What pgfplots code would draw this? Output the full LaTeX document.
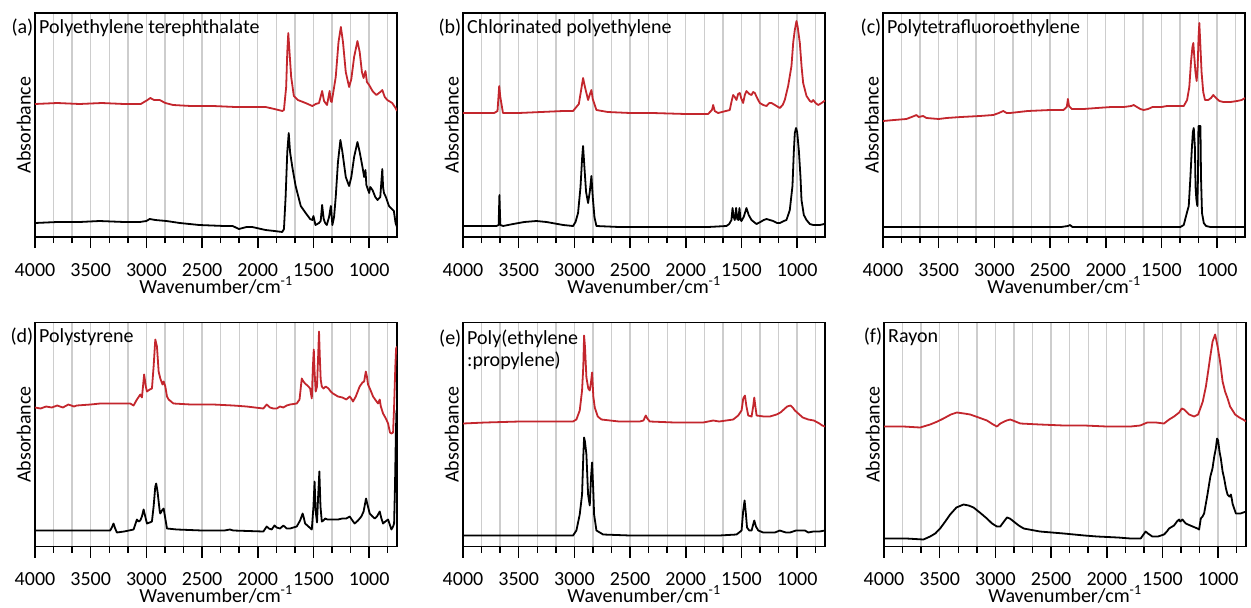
\documentclass[border=0pt]{standalone}
\usepackage{fontspec}
\setmainfont{Carlito}
\usepackage{pgfplots}
\pgfplotsset{compat=1.18}
\definecolor{specred}{RGB}{195,38,45}
\definecolor{gridgray}{RGB}{205,205,205}
\newcommand\ff{\fontsize{20}{24}\selectfont}
\pgfplotsset{
  spec/.style={
    scale only axis, width=362pt, height=224pt,
    anchor=north west, clip mode=individual,
    xmin=750, xmax=4000, x dir=reverse, ymin=0, ymax=224,
    xtick={1000,1500,...,4000},
    minor xtick={833.33,1166.67,1333.33,1666.67,1833.33,2166.67,2333.33,2666.67,2833.33,3166.67,3333.33,3666.67,3833.33},
    ytick=\empty,
    xtick pos=left,
    tick align=outside, major tick length=11pt, minor tick length=6pt,
    xmajorgrids, xminorgrids,
    major grid style={gridgray, line width=1.4pt},
    minor grid style={gridgray, line width=1.4pt},
    axis line style={line width=1.6pt},
    tick style={black, line width=1.5pt},
    tick label style={font=\ff},
    xticklabel style={anchor=base, inner sep=0pt, yshift=-28pt},
    /pgf/number format/set thousands separator={},
    /pgf/number format/assume math mode=true,
    xlabel={Wavenumber/cm\textsuperscript{-1}},
    xlabel style={font=\ff, inner sep=0pt, at={(axis description cs:0.5,0)}, anchor=base, yshift=-56pt},
    ylabel={Absorbance},
    ylabel style={font=\ff, at={(axis description cs:-0.0124,0.5)}, anchor=base},
    every axis plot/.append style={line width=1.8pt, line join=round, no marks},
  },
  red/.style={specred},
  blk/.style={black},
}
\newcommand\ptitle[2]{%
  \node[anchor=base east, inner sep=0pt, font=\ff, xshift=-1.5pt, yshift=-20pt] at (rel axis cs:0,1) {#1};
  \node[anchor=base west, inner sep=0pt, font=\ff, xshift=4pt, yshift=-20pt] at (rel axis cs:0,1) {#2};
}
\begin{document}
\begin{tikzpicture}
\path[use as bounding box] (0,0) rectangle (1251pt,-608pt);

% (a) PET
\begin{axis}[spec, at={(35pt,-13pt)}]
\addplot[red] coordinates {(4000,133)(3800,134)(3600,133)(3400,134)(3200,133)(3050,133)(2990,137)(2965,139)(2930,137)(2880,137)(2830,134)(2760,132)(2600,131)(2400,131)(2200,130)(2000,130)(1930,130)(1850,128)(1780,126)(1765,127)(1745,150)(1735,185)(1726,204)(1715,185)(1700,160)(1676,141)(1640,137)(1571,134)(1510,131)(1480,133)(1450,134)(1422,146)(1405,136)(1378,132)(1355,146)(1345,136)(1336,135)(1300,160)(1275,195)(1254,210)(1235,195)(1210,165)(1180,150)(1160,158)(1135,180)(1105,196)(1085,185)(1065,165)(1050,159)(1033,166)(1020,155)(1000,152)(970,146)(935,142)(900,145)(882,147)(860,140)(837,137)(793,134)(763,129)(750,126)};
\addplot[blk] coordinates {(4000,14)(3800,15)(3600,15)(3420,16)(3200,15)(3060,15)(3000,16)(2970,18)(2920,17)(2820,16)(2700,14)(2525,12)(2300,11)(2225,11)(2170,8)(2100,10)(2050,10)(1930,7)(1850,6)(1780,5)(1765,8)(1750,40)(1735,85)(1722,104)(1710,85)(1690,70)(1660,51)(1614,31)(1570,24)(1530,18)(1510,17)(1500,21)(1482,12)(1450,14)(1435,16)(1422,32)(1408,18)(1395,14)(1380,12)(1360,20)(1344,31)(1330,12)(1315,20)(1300,40)(1280,75)(1258,97)(1240,85)(1210,60)(1180,51)(1160,60)(1135,80)(1105,95)(1085,85)(1060,70)(1045,60)(1033,67)(1025,52)(1000,44)(990,50)(970,47)(945,40)(925,37)(900,40)(882,68)(875,50)(867,44)(850,40)(822,31)(778,26)(763,14)(750,10)};
\ptitle{(a)}{Polyethylene terephthalate}
\end{axis}

% (b) CPE
\begin{axis}[spec, at={(463pt,-13pt)}]
\addplot[red] coordinates {(4000,124)(3720,124)(3690,126)(3675,151)(3665,140)(3641,124)(3500,124)(3300,125)(3100,126)(3012,126)(2960,133)(2935,150)(2922,159)(2905,150)(2877,137)(2860,143)(2847,147)(2835,138)(2802,127)(2700,125)(2500,124)(2300,124)(2000,123)(1800,123)(1765,127)(1754,132)(1740,126)(1710,124)(1605,127)(1590,135)(1575,142)(1560,140)(1545,137)(1530,143)(1515,144)(1500,138)(1485,134)(1470,142)(1455,146)(1430,143)(1410,142)(1395,145)(1380,144)(1355,138)(1335,134)(1305,132)(1275,131)(1250,134)(1230,134)(1200,132)(1156,129)(1130,132)(1111,137)(1081,151)(1051,171)(1035,195)(1021,207)(1006,216)(995,210)(976,194)(960,170)(946,154)(916,141)(886,136)(870,135)(856,137)(835,134)(811,132)(780,134)(757,136)(750,136)};
\addplot[blk] coordinates {(4000,11)(3700,11)(3680,12)(3673,42)(3665,12)(3640,11)(3550,13)(3450,15)(3341,16)(3250,15)(3100,12)(3012,11)(2990,15)(2967,24)(2945,50)(2930,80)(2922,91)(2910,70)(2895,45)(2877,34)(2862,45)(2847,61)(2835,40)(2820,20)(2802,11)(2600,10)(2300,10)(2000,10)(1800,10)(1635,11)(1610,13)(1590,17)(1580,29)(1570,20)(1560,17)(1548,29)(1538,18)(1528,17)(1518,29)(1508,17)(1500,16)(1480,20)(1455,29)(1435,22)(1410,17)(1365,13)(1330,15)(1300,17)(1275,18)(1245,17)(1215,16)(1180,14)(1156,14)(1120,16)(1096,17)(1066,27)(1042,51)(1030,85)(1021,104)(1010,109)(1000,105)(985,87)(970,60)(961,37)(940,22)(916,17)(886,13)(856,12)(830,12)(796,12)(757,13)(750,13)};
\ptitle{(b)}{Chlorinated polyethylene}
\end{axis}

% (c) PTFE
\begin{axis}[spec, at={(883pt,-13pt)}]
\addplot[red] coordinates {(4000,116)(3900,117)(3790,118)(3720,121)(3700,122)(3680,120)(3640,121)(3610,119)(3500,118)(3430,119)(3300,120)(3130,121)(3010,122)(2960,124)(2920,126)(2890,124)(2860,124)(2700,126)(2500,127)(2380,127)(2350,130)(2340,138)(2330,131)(2305,128)(2200,128)(2080,129)(1950,130)(1840,130)(1770,131)(1750,132)(1720,130)(1690,128)(1660,127)(1620,128)(1580,130)(1540,130)(1500,130)(1450,131)(1350,131)(1300,131)(1270,137)(1250,150)(1235,175)(1222,190)(1214,194)(1205,180)(1195,165)(1184,156)(1175,170)(1167,200)(1160,214)(1152,195)(1140,165)(1125,145)(1109,137)(1080,137)(1055,139)(1035,142)(1010,139)(980,136)(945,135)(880,135)(820,136)(780,137)(750,139)};
\addplot[blk] coordinates {(4000,10)(3000,10)(2400,10)(2340,11)(2320,12)(2300,10)(1500,10)(1330,10)(1300,12)(1270,25)(1255,31)(1240,60)(1228,87)(1218,105)(1210,109)(1200,90)(1194,50)(1186,37)(1178,31)(1172,60)(1168,111)(1150,111)(1145,60)(1136,24)(1120,14)(1100,11)(1060,10)(750,10)};
\ptitle{(c)}{Polytetrafluoroethylene}
\end{axis}

% (d) PS
\begin{axis}[spec, at={(35pt,-322.5pt)}]
\addplot[red] coordinates {(4000,139)(3950,138)(3900,140)(3850,139)(3800,141)(3750,139)(3700,142)(3650,140)(3625,141)(3500,142)(3415,143)(3300,143)(3145,143)(3115,141)(3085,147)(3055,152)(3040,149)(3020,172)(3005,160)(2995,155)(2970,157)(2950,158)(2935,180)(2920,207)(2905,200)(2890,175)(2875,168)(2855,162)(2845,165)(2830,160)(2815,150)(2800,147)(2757,143)(2600,142)(2400,142)(2220,141)(2100,140)(1950,138)(1920,142)(1890,139)(1860,138)(1830,138)(1800,140)(1770,139)(1740,141)(1710,142)(1650,143)(1625,147)(1605,168)(1590,165)(1575,163)(1545,160)(1530,158)(1515,148)(1505,180)(1497,197)(1490,175)(1480,155)(1468,160)(1458,190)(1450,215)(1443,190)(1435,167)(1425,160)(1410,158)(1390,160)(1365,158)(1345,155)(1325,153)(1280,150)(1240,149)(1205,147)(1175,150)(1160,148)(1145,145)(1120,150)(1085,160)(1060,164)(1045,165)(1030,175)(1020,170)(1010,162)(990,157)(965,150)(940,146)(920,143)(905,147)(895,140)(875,133)(850,128)(830,123)(813,114)(800,113)(785,114)(776,140)(765,180)(758,198)(750,200)};
\addplot[blk] coordinates {(4000,16)(3600,16)(3325,16)(3310,19)(3295,23)(3280,18)(3265,14)(3200,15)(3115,17)(3085,27)(3070,25)(3055,26)(3040,30)(3025,37)(3010,30)(2995,23)(2970,24)(2950,25)(2935,40)(2920,60)(2912,63)(2900,55)(2880,35)(2875,33)(2860,36)(2845,38)(2830,28)(2815,18)(2725,17)(2500,16)(2300,16)(2250,17)(2220,16)(1950,15)(1920,20)(1900,18)(1875,17)(1850,21)(1830,19)(1800,18)(1770,21)(1740,18)(1710,18)(1680,19)(1650,20)(1635,23)(1620,26)(1597,33)(1585,28)(1575,23)(1545,20)(1515,17)(1500,40)(1490,65)(1480,35)(1468,24)(1458,50)(1447,75)(1437,40)(1425,25)(1410,26)(1395,28)(1375,27)(1350,27)(1320,27)(1280,27)(1240,28)(1205,28)(1175,30)(1150,26)(1130,23)(1100,26)(1070,30)(1050,35)(1028,48)(1015,42)(995,33)(970,30)(950,28)(930,30)(905,35)(890,28)(875,23)(855,25)(830,27)(815,22)(800,17)(785,20)(776,23)(768,60)(760,113)(755,135)(750,137)};
\ptitle{(d)}{Polystyrene}
\end{axis}

% (e) EP copolymer
\begin{axis}[spec, at={(463pt,-322.5pt)}]
\addplot[red] coordinates {(4000,123)(3800,124)(3491,125)(3200,125)(3012,125)(2982,127)(2952,136)(2931,156)(2920,180)(2913,211)(2905,200)(2892,169)(2875,158)(2862,156)(2850,165)(2841,174)(2830,150)(2817,139)(2790,130)(2757,127)(2600,125)(2413,125)(2380,126)(2359,131)(2345,128)(2323,125)(2100,124)(1844,124)(1754,126)(1700,125)(1574,127)(1529,131)(1499,136)(1484,148)(1469,151)(1455,140)(1439,131)(1409,130)(1395,140)(1385,149)(1375,140)(1364,131)(1300,130)(1245,130)(1185,132)(1150,134)(1120,137)(1090,140)(1060,141)(1040,139)(1020,136)(1000,134)(970,131)(950,129)(900,127)(850,126)(800,123)(775,121)(750,120)};
\addplot[blk] coordinates {(4000,11)(3500,11)(3012,11)(2982,16)(2952,32)(2931,52)(2920,90)(2913,109)(2905,105)(2892,92)(2877,52)(2862,41)(2850,70)(2841,84)(2830,55)(2823,32)(2802,16)(2742,12)(2500,11)(1993,11)(1700,11)(1544,12)(1499,16)(1485,35)(1472,46)(1462,35)(1450,19)(1430,16)(1409,16)(1395,22)(1385,26)(1370,20)(1349,16)(1305,14)(1200,14)(1155,16)(1130,15)(1100,14)(1065,14)(1010,16)(960,16)(930,16)(900,14)(855,15)(800,15)(750,16)};
\node[anchor=base east, inner sep=0pt, font=\ff, xshift=-1.5pt, yshift=-22pt] at (rel axis cs:0,1) {(e)};
\node[anchor=base west, inner sep=0pt, font=\ff, xshift=4pt, yshift=-22pt] at (rel axis cs:0,1) {Poly(ethylene};
\node[anchor=base west, inner sep=0pt, font=\ff, xshift=4pt, yshift=-44pt] at (rel axis cs:0,1) {:propylene)};
\end{axis}

% (f) Rayon
\begin{axis}[spec, at={(884pt,-322.5pt)}]
\addplot[red] coordinates {(4000,120)(3826,120)(3676,119)(3586,122)(3520,125)(3466,128)(3400,132)(3346,134)(3280,133)(3226,132)(3150,129)(3076,126)(3020,122)(2986,120)(2956,123)(2900,126)(2866,127)(2820,125)(2776,123)(2600,122)(2386,121)(2200,121)(2000,120)(1786,120)(1700,121)(1636,124)(1560,124)(1486,123)(1440,127)(1396,130)(1350,134)(1327,138)(1306,137)(1260,132)(1216,130)(1180,132)(1160,138)(1138,145)(1110,160)(1090,175)(1072,189)(1050,205)(1027,212)(1005,200)(983,185)(960,165)(938,155)(915,148)(893,140)(870,136)(848,132)(810,129)(776,127)(750,125)};
\addplot[blk] coordinates {(4000,8)(3800,8)(3646,7)(3586,10)(3540,13)(3496,18)(3450,25)(3406,32)(3350,39)(3286,42)(3240,41)(3196,39)(3140,34)(3076,28)(3030,23)(2986,20)(2956,20)(2930,24)(2896,29)(2870,28)(2836,25)(2790,21)(2746,18)(2600,15)(2386,13)(2200,11)(2086,10)(1900,9)(1786,8)(1696,8)(1670,12)(1651,15)(1630,13)(1591,10)(1540,10)(1486,12)(1460,15)(1441,18)(1396,21)(1370,25)(1351,27)(1340,25)(1321,27)(1291,23)(1250,21)(1186,18)(1171,17)(1160,25)(1156,28)(1140,30)(1126,33)(1096,52)(1070,70)(1051,78)(1035,90)(1021,98)(1010,108)(1000,106)(988,95)(976,88)(960,75)(946,68)(930,58)(916,52)(900,50)(892,50)(886,52)(878,48)(871,43)(856,38)(841,33)(800,33)(750,35)};
\ptitle{(f)}{Rayon}
\end{axis}
\end{tikzpicture}
\end{document}
